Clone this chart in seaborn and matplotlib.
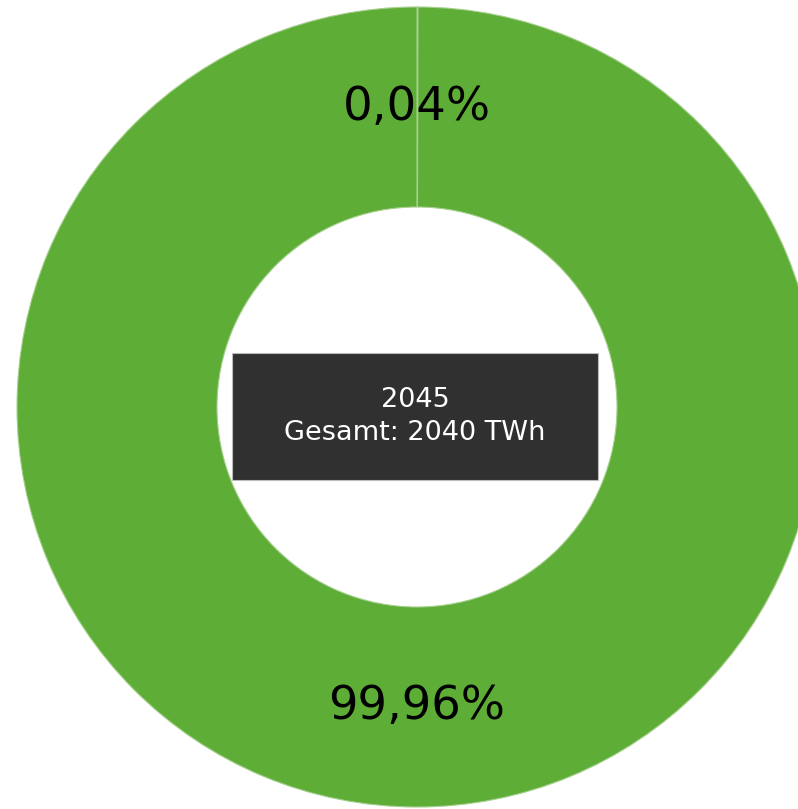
import matplotlib
matplotlib.use("Agg")
import matplotlib.pyplot as plt
import seaborn as sns
from matplotlib.patches import Rectangle

# data
categories = ["Andere", "Erneuerbare"]
shares = [0.04, 99.96]
colors = ["#5dad36", "#5dad36"]
year_label = "2045"
total_label = "Gesamt: 2040 TWh"

sns.set_theme(style="white")
plt.rcParams['font.family'] = ['DejaVu Sans']

W, H = 798, 809
fig = plt.figure(figsize=(W / 100, H / 100), dpi=100)
ax = fig.add_axes([0, 0, 1, 1])

cx, cy, R = 417, H - 407, 400

def fmt(p):
    return f"{p:.2f}".replace(".", ",") + "%"

wedges, texts, autotexts = ax.pie(
    shares, colors=colors, startangle=90, counterclock=False,
    center=(cx, cy), radius=R, frame=True,
    autopct=fmt, pctdistance=0.75,
    wedgeprops=dict(width=R * 0.5, edgecolor="#a6d08e", linewidth=0.8),
    textprops=dict(fontsize=33.5, color="black"),
)
ax.set_xlim(0, W)
ax.set_ylim(0, H)
ax.set_aspect("equal")
ax.axis("off")

# center box
bx0, bx1 = 232, 598
by0, by1 = H - 480, H - 353
ax.add_patch(Rectangle((bx0, by0), bx1 - bx0, by1 - by0, facecolor="#303030",
                       edgecolor="#bbbbbb", linewidth=0.8, zorder=5))
bcx = (bx0 + bx1) / 2
ax.text(bcx, H - 400, year_label, ha="center", va="center", color="white",
        fontsize=19.5, zorder=6)
ax.text(bcx, H - 433, total_label, ha="center", va="center", color="white",
        fontsize=19.5, zorder=6)

fig.savefig("out.png", dpi=100)
